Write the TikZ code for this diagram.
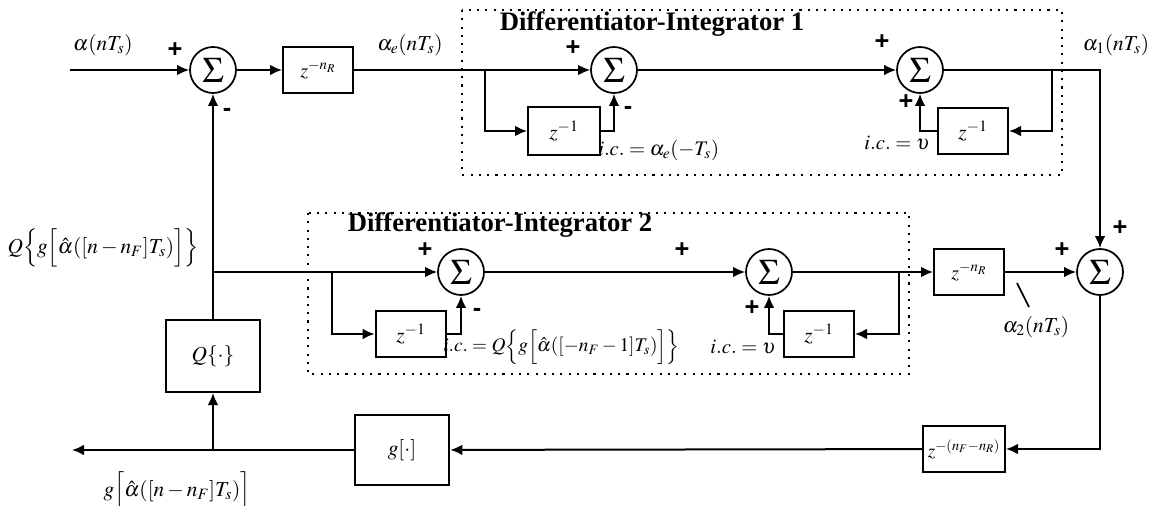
\documentclass[tikz,border=0pt]{standalone}
\usepackage{mathptmx}
\usepackage[no-math]{fontspec}
\setmainfont{Liberation Serif}
\newfontfamily\signfont{Liberation Sans}
\usetikzlibrary{arrows.meta}
\begin{document}
\begin{tikzpicture}[x=0.75pt,y=-0.75pt,
  font=\fontsize{16}{19}\selectfont,
  sumn/.style={circle,draw,line width=1.3pt,minimum size=34.5pt,inner sep=0pt,font=\fontsize{27}{27}\selectfont},
  blk/.style={draw,line width=1.5pt,inner sep=0pt,minimum width=52.5pt,minimum height=35pt,font=\fontsize{16}{19}\selectfont},
  arr/.style={line width=1.5pt,-{Latex[length=9pt,width=8pt]}},
  dotbox/.style={line width=1.6pt,dash pattern=on 1.6pt off 4.6pt},
  sgn/.style={font=\signfont\bfseries\fontsize{19}{19}\selectfont,inner sep=0pt},
  ttl/.style={font=\bfseries\fontsize{20}{22}\selectfont,inner sep=0pt},
  lbl/.style={inner sep=0pt},
  icl/.style={inner sep=0pt,font=\fontsize{15.5}{18}\selectfont}]
\useasboundingbox (0,0) rectangle (1156,506);

% dotted boxes
\draw[dotbox] (462,10) rectangle (1062,175);
\draw[dotbox] (308,213) rectangle (909,374);
\node[ttl] (t1) at (652,24) {Differentiator-Integrator 1};
\node[ttl] (t2) at (500,225) {Differentiator-Integrator 2};

% summing nodes
\node[sumn] (s1) at (213,70) {$\Sigma$};
\node[sumn] (s2) at (614,70) {$\Sigma$};
\node[sumn] (s3) at (920,70) {$\Sigma$};
\node[sumn] (s4) at (1100,272) {$\Sigma$};
\node[sumn] (s5) at (461,272) {$\Sigma$};
\node[sumn] (s6) at (769,272) {$\Sigma$};

% blocks
\node[blk,font=\fontsize{15}{18}\selectfont] (zR1) at (318,70) {$z^{-n_R}$};
\node[blk,minimum width=54pt,minimum height=36pt] (zm1a) at (564,131) {$z^{-1}$};
\node[blk] (zm1b) at (973,131) {$z^{-1}$};
\node[blk,minimum width=70pt,minimum height=54pt] (Q) at (213,356) {$Q\{\cdot\}$};
\node[blk,minimum width=53pt,minimum height=34.5pt] (zm2a) at (411,334) {$z^{-1}$};
\node[blk,minimum height=34.5pt] (zm2b) at (819,334) {$z^{-1}$};
\node[blk,minimum height=34.5pt,font=\fontsize{15}{18}\selectfont] (zR2) at (969,272) {$z^{-n_R}$};
\node[blk,minimum width=61.5pt,minimum height=34.5pt,font=\fontsize{14.5}{17}\selectfont] (zF) at (964,449) {$z^{-(n_F-n_R)}$};
\node[blk,minimum width=71pt,minimum height=53pt] (g) at (402,450) {$g[\cdot]$};

% coordinates
\coordinate (in) at (70,70);
\coordinate (b1) at (485,70);
\coordinate (b3) at (1052,70);
\coordinate (J) at (213,272);
\coordinate (b2) at (332,272);
\coordinate (b4) at (899,272);
\coordinate (J2) at (213,450);
\coordinate (out) at (72,450);
\coordinate (lead1) at (1017,283);
\coordinate (lead2) at (1029,307);

% top path
\draw[arr] (in) -- (s1);
\draw[arr] (s1) -- (zR1);
\draw[arr] (zR1) -- (s2);
\draw[arr] (b1) |- (zm1a.west);
\draw[arr] (zm1a.east) -| (s2.south);
\draw[arr] (s2) -- (s3);
\draw[arr] (s3.east) -| (s4.north);
\draw[arr] (b3) |- (zm1b.east);
\draw[arr] (zm1b.west) -| (s3.south);

% middle path
\draw[arr] (Q.north) -- (s1.south);
\draw[arr] (J) -- (s5);
\draw[arr] (b2) |- (zm2a.west);
\draw[arr] (zm2a.east) -| (s5.south);
\draw[arr] (s5) -- (s6);
\draw[arr] (s6) -- (zR2);
\draw[arr] (b4) |- (zm2b.east);
\draw[arr] (zm2b.west) -| (s6.south);
\draw[arr] (zR2) -- (s4);

% bottom path
\draw[arr] (s4.south) |- (zF.east);
\draw[arr] (zF) -- (g);
\draw[arr] (g) -- (out);
\draw[arr] (J2) -- (Q.south);
\draw[line width=1.3pt] (lead1) -- (lead2);

% signal labels
\node[lbl] (la) at (103,45) {$\alpha(nT_s)$};
\node[lbl] (lae) at (410,45) {$\alpha_e(nT_s)$};
\node[lbl] (la1) at (1116,45) {$\alpha_1(nT_s)$};
\node[lbl] (la2) at (1036,327) {$\alpha_2(nT_s)$};
\node[lbl] (lq) at (103,248) {$Q\Big\{g\Big[\hat\alpha([n-n_F]T_s)\Big]\Big\}$};
\node[lbl] (lg) at (177,491) {$g\Big[\hat\alpha([n-n_F]T_s)\Big]$};
\node[icl,anchor=west] (ic1) at (598,150) {$i.c.=\alpha_e(-T_s)$};
\node[icl,anchor=east] (ic2) at (930,143) {$i.c.=\upsilon$};
\node[icl,anchor=west,font=\fontsize{14.5}{17}\selectfont] (ic3) at (443,347) {$i.c.=Q\Big\{g\Big[\hat\alpha([-n_F-1]T_s)\Big]\Big\}$};
\node[icl,anchor=east] (ic4) at (776,347) {$i.c.=\upsilon$};

% signs
\node[sgn] (p1) at (175,50) {+};
\node[sgn] (m1) at (227,112) {-};
\node[sgn] (p2) at (573,48) {+};
\node[sgn] (m2) at (628,110) {-};
\node[sgn] (p3) at (882,42) {+};
\node[sgn] (p4) at (906,102) {+};
\node[sgn] (p5) at (1120,228) {+};
\node[sgn] (p6) at (1062,250) {+};
\node[sgn] (p7) at (425,250) {+};
\node[sgn] (m3) at (477,312) {-};
\node[sgn] (p8) at (682,250) {+};
\node[sgn] (p9) at (752,308) {+};
\end{tikzpicture}
\end{document}
